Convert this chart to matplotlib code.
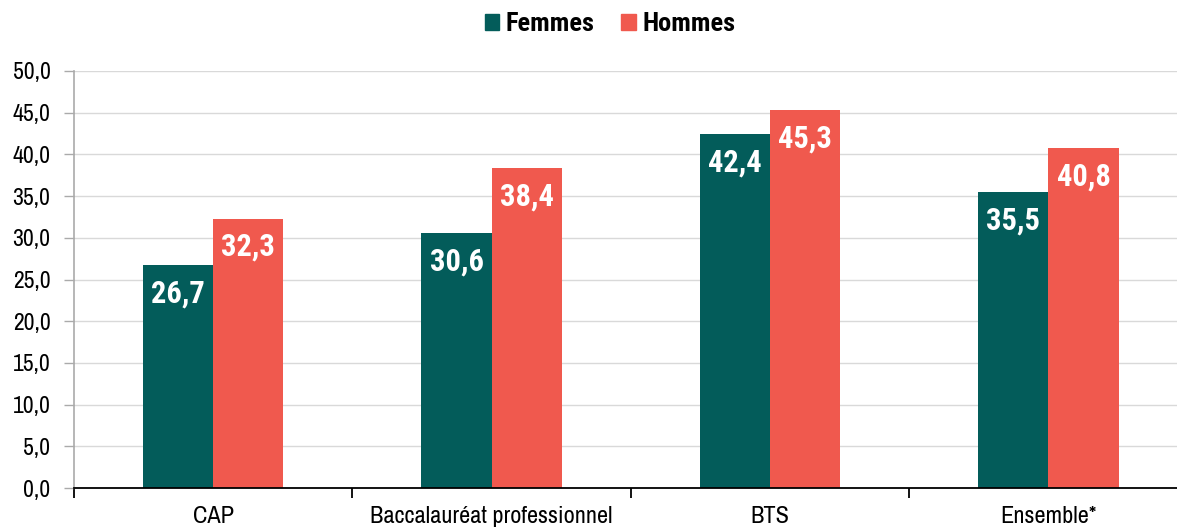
import matplotlib.pyplot as plt
import numpy as np
from matplotlib.patches import Patch

plt.rcParams['font.family'] = ['Archivo Narrow', 'Liberation Sans', 'DejaVu Sans']
bold_font = ['Roboto Condensed', 'Barlow Semi Condensed', 'Liberation Sans']

categories = ['CAP', 'Baccalauréat professionnel', 'BTS', 'Ensemble*']
femmes = [26.7, 30.6, 42.4, 35.5]
hommes = [32.3, 38.4, 45.3, 40.8]
series = ['Femmes', 'Hommes']
colors = ['#035c5a', '#f0594e']

fig = plt.figure(figsize=(11.77, 5.28), dpi=100)
ax = fig.add_axes([74 / 1177, 40 / 528, 1 - 74 / 1177, 417 / 528])

x = np.arange(len(categories))
w = 0.252
b1 = ax.bar(x - w / 2, femmes, w, color=colors[0], zorder=3)
b2 = ax.bar(x + w / 2, hommes, w, color=colors[1], zorder=3)

for bars, vals in [(b1, femmes), (b2, hommes)]:
    for r, v in zip(bars, vals):
        ax.text(r.get_x() + r.get_width() / 2, v - 1.6, f'{v:.1f}'.replace('.', ','),
                ha='center', va='top', color='white', fontsize=22, fontweight='bold',
                family=bold_font, zorder=4)

ax.set_ylim(0, 50)
ax.set_yticks(np.arange(0, 50.1, 5))
ax.set_yticklabels([f'{t:.1f}'.replace('.', ',') for t in np.arange(0, 50.1, 5)], fontsize=17)
ax.set_xticks(x)
ax.set_xticklabels(categories, fontsize=17.5)
ax.tick_params(axis='x', length=0, pad=13)
# separators between groups (the last one falls past the right edge)
ax.set_xticks(np.arange(-0.5, len(categories) - 1, 1), minor=True)
ax.tick_params(axis='x', which='minor', length=7, width=1.3, color='black', direction='out')
ax.tick_params(axis='y', length=7, color='#aaaaaa', width=1, pad=10)
ax.set_xlim(-0.5, -0.5 + (1177 - 74) / 278.4)

ax.grid(axis='y', color='#d9d9d9', linewidth=1, zorder=0)
for s in ['top', 'right']:
    ax.spines[s].set_visible(False)
ax.spines['left'].set_color('#aaaaaa')
ax.spines['left'].set_linewidth(1.2)
ax.spines['bottom'].set_color('black')
ax.spines['bottom'].set_linewidth(1.3)
ax.spines['bottom'].set_zorder(5)

handles = [Patch(color=c, label=s) for c, s in zip(colors, series)]
fig.legend(handles=handles, loc='center', bbox_to_anchor=(610 / 1177, 1 - 24 / 528), ncol=2,
           frameon=False, prop={'size': 19, 'weight': 'bold', 'family': bold_font},
           handlelength=0.55, handleheight=0.55, handletextpad=0.25, columnspacing=1.0)

fig.savefig('out.png', dpi=100)
